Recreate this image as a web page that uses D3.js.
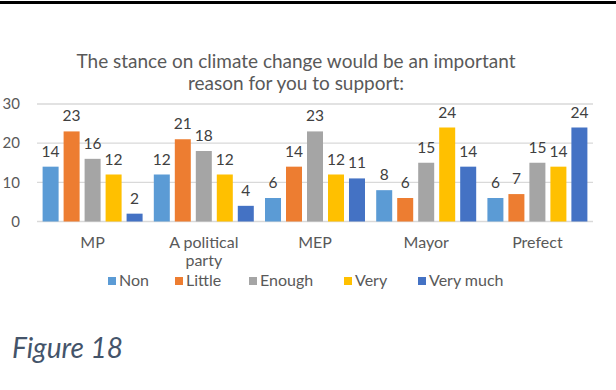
<!DOCTYPE html>
<html><head><meta charset="utf-8">
<script src="https://cdn.jsdelivr.net/npm/d3@7"></script>
<style>body{margin:0;background:#fff}svg{display:block}</style>
</head><body>
<svg id="c" width="616" height="390"></svg>
<script>
const categories = ["MP", "A political party", "MEP", "Mayor", "Prefect"];
const seriesNames = ["Non", "Little", "Enough", "Very", "Very much"];
const non      = [14, 12, 6, 8, 6];
const little   = [23, 21, 14, 6, 7];
const enough   = [16, 18, 23, 15, 15];
const very     = [12, 12, 12, 24, 14];
const veryMuch = [2, 4, 11, 14, 24];
const yTicks = [0, 10, 20, 30];
const colors = ["#5B9BD5", "#ED7D31", "#A5A5A5", "#FFC000", "#4472C4"];
const titleLines = ["The stance on climate change would be an important", "reason for you to support:"];
const captionText = "Figure 18";

const values = [non, little, enough, very, veryMuch];
const svg = d3.select("#c");
const font = "Lato, 'Open Sans', sans-serif";

svg.append("rect").attr("x",0).attr("y",1).attr("width",616).attr("height",3).attr("fill","#000");

const x0 = d3.scaleBand().domain(categories).range([37, 593]).padding(0);
const x1 = d3.scaleBand().domain(seriesNames).range([0, x0.bandwidth()]).paddingInner(0.238).paddingOuter(0.267);
const y = d3.scaleLinear().domain([0, 30]).range([221.5, 104]);

// gridlines
svg.append("g").selectAll("line").data(yTicks).join("line")
  .attr("x1", 37).attr("x2", 593)
  .attr("y1", d => y(d)).attr("y2", d => y(d))
  .attr("stroke", "#d9d9d9").attr("stroke-width", 1.3);

// y axis labels
const yAxis = d3.axisLeft(y).tickValues(yTicks).tickSize(0).tickPadding(0);
const ya = svg.append("g").attr("transform","translate(20,0)").call(yAxis);
ya.select(".domain").remove();
ya.selectAll("text").attr("font-family", font).attr("font-size", 15).attr("fill", "#595959");

// bars
const groups = svg.append("g").selectAll("g").data(categories).join("g")
  .attr("transform", d => `translate(${x0(d)},0)`);
groups.each(function(cat, ci){
  const g = d3.select(this);
  const rows = seriesNames.map((s, si) => ({s, si, v: values[si][ci]}));
  g.selectAll("rect").data(rows).join("rect")
    .attr("x", d => x1(d.s)).attr("width", x1.bandwidth())
    .attr("y", d => y(d.v)).attr("height", d => y(0) - y(d.v))
    .attr("fill", d => colors[d.si]);
  g.selectAll("text").data(rows).join("text")
    .attr("x", d => x1(d.s) + x1.bandwidth()/2)
    .attr("y", d => y(d.v) - 10)
    .attr("text-anchor", "middle")
    .attr("font-family", font).attr("font-size", 15.5).attr("fill", "#404040")
    .text(d => d.v);
});

// category labels
const xAxis = d3.axisBottom(x0).tickSize(0).tickPadding(0);
const xa = svg.append("g").attr("transform", "translate(0,236)").call(xAxis);
xa.select(".domain").remove();
xa.selectAll("text").attr("font-family", font).attr("font-size", 16).attr("fill", "#595959")
  .attr("dy", null).attr("y", 12)
  .each(function(d){
    const t = d3.select(this);
    if (d === "A political party") {
      t.text(null);
      t.append("tspan").attr("x", 0).attr("y", 12).text("A political");
      t.append("tspan").attr("x", 0).attr("y", 29.5).text("party");
    }
  });

// title
svg.append("g").selectAll("text").data(titleLines).join("text")
  .attr("x", 296).attr("y", (d,i) => 68 + i*22)
  .attr("text-anchor", "middle")
  .attr("font-family", font).attr("font-size", 19).attr("fill", "#595959")
  .text(d => d);

// legend
const legendX = [108, 175, 249, 344, 418];
const lg = svg.append("g").selectAll("g").data(seriesNames).join("g")
  .attr("transform", (d,i) => `translate(${legendX[i]},277)`);
lg.append("rect").attr("width", 8).attr("height", 8).attr("fill", (d,i) => colors[i]);
lg.append("text").attr("x", 11).attr("y", 8.5)
  .attr("font-family", font).attr("font-size", 16).attr("fill", "#595959")
  .text(d => d);

// caption
svg.append("text").attr("x", 12).attr("y", 358)
  .attr("font-family", font).attr("font-style", "italic").attr("font-size", 28)
  .attr("fill", "#44546A").text(captionText);
</script>
</body></html>
